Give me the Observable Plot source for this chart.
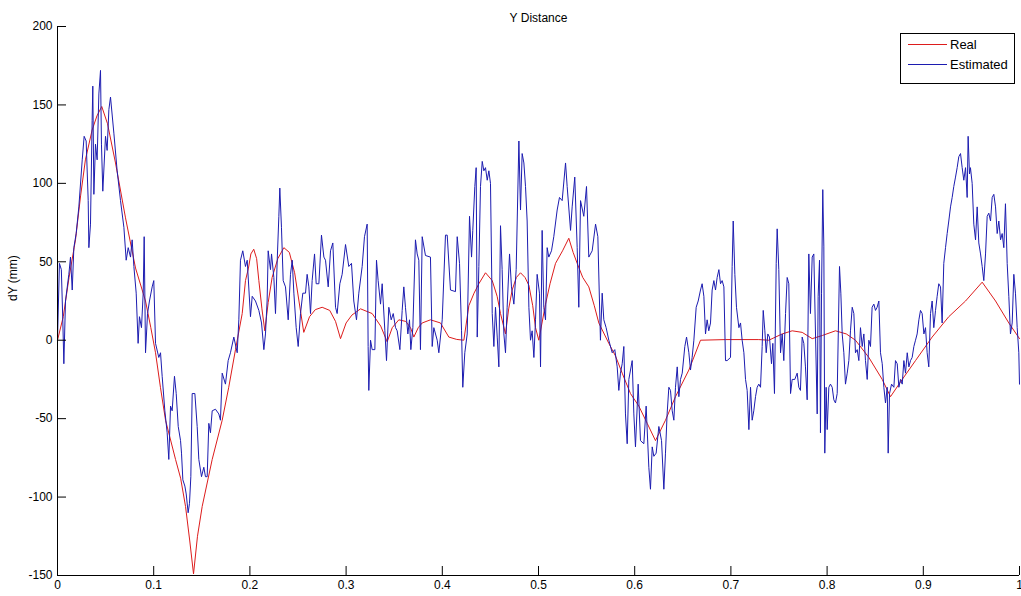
<!DOCTYPE html>
<html><head><meta charset="utf-8">
<script src="https://cdn.jsdelivr.net/npm/d3@7"></script>
<script src="https://cdn.jsdelivr.net/npm/@observablehq/plot@0.6"></script>
<style>
html,body{margin:0;padding:0;background:#fff;}
#wrap{position:relative;width:1021px;height:596px;font-family:"Liberation Sans",Arial,sans-serif;}
#legend{position:absolute;left:900px;top:33px;}
</style></head><body><div id="wrap"></div>
<script>
const titleText = "Y Distance";
const yLabelText = "dY (mm)";
const xTicks = [0,0.1,0.2,0.3,0.4,0.5,0.6,0.7,0.8,0.9,1];
const yTicks = [-150,-100,-50,0,50,100,150,200];
const seriesNames = ["Real","Estimated"];
const seriesColors = ["#dd1c1c","#1c1cb0"];

// Real (smooth) series: [x, dY]
const realPts = [[0,0],[0.006,15],[0.012,40],[0.0187,64],[0.024,92],[0.029,115],[0.036,134],[0.041,143],[0.046,149],[0.052,138],[0.0603,113],[0.0707,78],[0.0811,46],[0.0915,25],[0.097,8],[0.1019,-8],[0.107,-30],[0.1123,-51],[0.1227,-76],[0.128,-88],[0.1331,-106],[0.1375,-128],[0.1414,-149],[0.1455,-125],[0.1504,-106],[0.1608,-76],[0.1712,-51],[0.178,-30],[0.185,-6],[0.192,17],[0.1954,38],[0.1985,46],[0.201,55],[0.204,58],[0.207,52],[0.2093,38],[0.2125,20],[0.2155,6],[0.219,24],[0.2231,40],[0.229,52],[0.2353,59],[0.241,56],[0.2465,43],[0.251,25],[0.256,5],[0.262,15],[0.268,19.5],[0.2751,21],[0.283,19],[0.289,12],[0.2942,1],[0.3,11],[0.306,16],[0.315,20],[0.3271,17],[0.336,9],[0.3427,-1],[0.348,8],[0.3548,13],[0.362,12],[0.367,8],[0.3704,2],[0.375,8],[0.3791,11],[0.3877,13],[0.3981,11],[0.4068,2],[0.415,0.5],[0.4224,0],[0.4276,22],[0.433,30],[0.438,36],[0.4449,43],[0.4519,38],[0.457,28],[0.4605,17],[0.4657,4],[0.469,20],[0.4726,32],[0.477,40],[0.4813,43],[0.486,40],[0.49,35],[0.494,22],[0.4969,8],[0.5003,0],[0.5073,23],[0.512,36],[0.5177,49],[0.525,57],[0.5315,65],[0.536,56],[0.5402,49],[0.546,40],[0.5523,34],[0.558,22],[0.5627,11],[0.5731,-2],[0.58,-10],[0.587,-21],[0.5956,-34],[0.6043,-42],[0.613,-53],[0.6216,-64],[0.632,-51],[0.6424,-36],[0.6563,-19],[0.6684,0],[0.6944,0.4],[0.729,0.4],[0.7394,0],[0.7533,4],[0.7637,6],[0.7741,5],[0.7845,1],[0.795,3],[0.8087,6],[0.82,4],[0.8295,0],[0.8434,-11],[0.8573,-25],[0.8659,-36],[0.8781,-25],[0.8919,-13],[0.9092,2],[0.9265,15],[0.9439,25],[0.9612,37],[0.9751,25],[0.9889,11],[1,1]];

// Estimated (noisy) series: [x, dY]
const estPts = [[0,0],[0.002,49],[0.004,45],[0.0055,13],[0.0066,-15],[0.0083,25],[0.0118,42],[0.0135,53],[0.0153,32],[0.017,59],[0.0194,68],[0.0222,85],[0.0257,115],[0.0277,130],[0.0298,127],[0.0319,89],[0.0326,59],[0.0343,74],[0.036,140],[0.0367,162],[0.0378,93],[0.0395,125],[0.0412,115],[0.043,157],[0.0447,172],[0.0457,125],[0.0471,95],[0.0499,130],[0.0516,121],[0.0534,147],[0.0551,155],[0.0586,132],[0.062,108],[0.0655,89],[0.069,72],[0.0714,51],[0.0735,59],[0.0759,53],[0.0776,64],[0.0794,47],[0.0818,30],[0.0838,-2],[0.0852,15],[0.0873,8],[0.0891,30],[0.0901,66],[0.0915,-8],[0.0936,17],[0.0956,25],[0.0984,34],[0.1001,38],[0.1019,-2],[0.1053,-11],[0.1071,-8],[0.1088,-23],[0.1116,-45],[0.114,-59],[0.1157,-76],[0.1175,-42],[0.1192,-45],[0.1216,-23],[0.1234,-34],[0.1255,-55],[0.1279,-64],[0.1289,-72],[0.1303,-89],[0.1324,-93],[0.1338,-98],[0.1358,-110],[0.1372,-104],[0.1386,-87],[0.14,-34],[0.1428,-34],[0.1452,-55],[0.1469,-76],[0.1497,-87],[0.1521,-81],[0.1538,-87],[0.1556,-87],[0.1573,-53],[0.159,-59],[0.1608,-45],[0.1642,-44],[0.1677,-47],[0.1694,-51],[0.1712,-21],[0.1746,-28],[0.1774,-13],[0.1798,-8],[0.1833,2],[0.1868,-8],[0.1885,13],[0.1902,51],[0.1926,57],[0.1954,47],
[0.1972,51],[0.2006,15],[0.2024,28],[0.2058,25],[0.2093,19],[0.2121,11],[0.2145,-6],[0.2162,4],[0.2179,25],[0.219,57],[0.2214,45],[0.2225,55],[0.2249,40],[0.2266,17],[0.2284,51],[0.2301,79],[0.2311,97],[0.2328,72],[0.2346,38],[0.237,34],[0.2398,13],[0.2422,42],[0.244,51],[0.2457,30],[0.2481,8],[0.2502,-4],[0.2526,17],[0.255,30],[0.2578,30],[0.2595,42],[0.2613,34],[0.263,17],[0.2647,38],[0.2672,55],[0.2689,36],[0.2717,36],[0.2744,67],[0.2769,53],[0.2786,51],[0.2814,34],[0.2838,57],[0.2862,62],[0.289,21],[0.2907,17],[0.2935,36],[0.2959,42],[0.2994,61],[0.3028,47],[0.3056,49],[0.308,25],[0.3108,13],[0.3132,30],[0.3167,47],[0.3191,66],[0.3219,74],[0.3229,-4],[0.3236,-32],[0.3254,0],[0.3271,-6],[0.3299,-6],[0.3316,51],[0.3333,38],[0.3358,23],[0.3375,36],[0.3403,6],[0.342,-13],[0.3444,21],[0.3469,13],[0.349,17],[0.3514,8],[0.3531,6],[0.3559,-6],[0.3583,19],[0.36,34],[0.3617,21],[0.3642,4],[0.3659,13],[0.3673,-6],[0.3694,8],[0.3721,64],[0.3739,55],[0.3756,51],[0.3773,-6],[0.3791,66],[0.3825,54],[0.3877,53],[0.3895,-4],[0.3912,8],[0.3947,0],
[0.3964,-8],[0.3999,13],[0.4033,67],[0.4051,67],[0.4085,32],[0.4137,31],[0.4155,66],[0.4179,49],[0.42,6],[0.4213,-30],[0.4234,-8],[0.4259,4],[0.4283,79],[0.4304,53],[0.4317,70],[0.4338,98],[0.4352,110],[0.4363,2],[0.438,47],[0.4397,98],[0.4415,114],[0.4432,108],[0.4449,110],[0.4467,102],[0.4484,108],[0.4501,100],[0.4519,17],[0.4536,-4],[0.4553,21],[0.4571,2],[0.4588,-17],[0.4605,73],[0.4622,45],[0.464,4],[0.4657,-8],[0.4674,21],[0.4699,55],[0.4719,34],[0.4744,23],[0.4768,45],[0.4796,127],[0.4813,83],[0.483,119],[0.4848,113],[0.4865,98],[0.4882,76],[0.49,21],[0.4917,0],[0.4934,6],[0.4952,-11],[0.4969,13],[0.4986,42],[0.501,30],[0.5021,-17],[0.5038,70],[0.5055,21],[0.5073,13],[0.509,59],[0.5107,53],[0.5135,57],[0.5159,66],[0.5194,83],[0.5218,91],[0.5246,89],[0.5281,113],[0.5298,98],[0.5333,70],[0.535,85],[0.5377,104],[0.5402,59],[0.5419,21],[0.5437,89],[0.5471,79],[0.5499,98],[0.5523,53],[0.5558,57],[0.5593,74],[0.5617,66],[0.5644,0],[0.5662,30],[0.5679,13],[0.5703,8],[0.5731,0],[0.5766,-8],[0.5793,-6],[0.5818,-17],[0.5835,-32],[0.5852,-21],[0.587,-15],[0.5887,-4],[0.5904,-47],[0.5922,-66],[0.5939,-25],
[0.5974,-13],[0.5991,-47],[0.6008,-68],[0.6036,-28],[0.606,-64],[0.6095,-66],[0.6119,-42],[0.6147,-81],[0.6164,-95],[0.6182,-68],[0.6199,-74],[0.6223,-72],[0.6251,-55],[0.6279,-64],[0.6303,-95],[0.632,-72],[0.6337,-47],[0.6355,-30],[0.6372,-32],[0.639,-45],[0.6407,-51],[0.6424,-30],[0.6442,-17],[0.6459,-36],[0.6476,-25],[0.6494,-21],[0.6521,-4],[0.6539,2],[0.6563,-8],[0.658,-19],[0.6597,-11],[0.6615,0],[0.6639,21],[0.666,25],[0.6684,32],[0.6701,36],[0.6719,28],[0.6736,4],[0.6753,13],[0.677,6],[0.6788,11],[0.6805,32],[0.6823,38],[0.684,32],[0.6857,40],[0.6875,45],[0.6892,36],[0.6909,38],[0.6927,34],[0.6944,-13],[0.6961,-13],[0.6996,-11],[0.7013,47],[0.7024,76],[0.7041,42],[0.7058,21],[0.7083,8],[0.71,11],[0.7117,0],[0.7135,-8],[0.7152,-25],[0.7169,-32],[0.7187,-57],[0.7204,-30],[0.7221,-51],[0.7238,-45],[0.7256,-36],[0.7273,-30],[0.729,-28],[0.7308,-30],[0.7325,-4],[0.7336,19],[0.7353,6],[0.7367,-8],[0.7384,4],[0.7401,2],[0.7422,-15],[0.7436,-2],[0.7453,-34],[0.7471,49],[0.7481,71],[0.7498,45],[0.7516,-8],[0.7533,4],[0.755,-13],[0.7568,17],[0.7585,40],[0.7602,36],[0.762,-34],[0.7637,-25],[0.7664,-25],[0.7689,-21],[0.7706,-30],[0.7723,-32],[0.7741,2],[0.7758,-2],[0.7775,-17],[0.7793,-38],[0.781,55],[0.7827,17],[0.7845,53],[0.7862,55],
[0.7897,-47],[0.7907,28],[0.7921,51],[0.7931,-59],[0.7942,30],[0.7955,96],[0.7966,60],[0.7976,-72],[0.799,-30],[0.8001,-57],[0.8018,-30],[0.8035,-28],[0.8053,-30],[0.807,-38],[0.8087,-40],[0.8105,-34],[0.8129,47],[0.8143,30],[0.8157,4],[0.8174,-8],[0.8191,-28],[0.8209,-21],[0.8226,-13],[0.8243,6],[0.8261,21],[0.8278,17],[0.8295,-8],[0.8313,-6],[0.833,-13],[0.8347,8],[0.8365,-4],[0.8382,4],[0.8399,-13],[0.8417,-25],[0.8434,0],[0.8451,-4],[0.8468,21],[0.8486,23],[0.8503,19],[0.852,21],[0.8538,25],[0.8555,-8],[0.8573,-15],[0.859,-30],[0.8607,-40],[0.8625,-30],[0.8635,-72],[0.8649,-34],[0.867,-28],[0.8694,-30],[0.8711,-13],[0.8729,-15],[0.8746,-30],[0.8763,-25],[0.8781,-28],[0.8798,-13],[0.8815,-21],[0.8833,-8],[0.885,-17],[0.8867,-13],[0.8884,-11],[0.8902,-4],[0.8919,0],[0.8936,4],[0.8954,13],[0.8971,19],[0.8988,17],[0.9006,4],[0.9023,8],[0.904,-8],[0.9057,-17],[0.9075,17],[0.9092,25],[0.9109,8],[0.9127,19],[0.9144,28],[0.9161,36],[0.9179,34],[0.9196,11],[0.9213,49],[0.9231,59],[0.9248,68],[0.9265,76],[0.9283,85],[0.93,91],[0.9317,98],[0.9335,104],[0.9352,110],[0.9369,117],[0.9387,119],[0.9404,110],[0.9421,102],[0.9439,110],[0.9456,91],[0.9466,130],[0.948,106],[0.949,110],[0.9508,100],[0.9525,74],[0.9543,64],[0.956,85],[0.9577,62],[0.9595,55],[0.9612,47],[0.9629,38],[0.9647,55],[0.9664,79],[0.9681,81],[0.9699,76],[0.9716,91],[0.9733,93],[0.9751,85],[0.9768,68],[0.9785,76],[0.9803,64],[0.982,68],[0.9837,59],[0.9854,87],[0.9872,49],[0.9889,28],[0.9906,4],[0.9924,11],[0.9941,42],[0.9958,30],[0.9976,8],[0.9993,-8],[1,-28]];

const realData = realPts.map(([x, y]) => ({x, y}));
const estData = estPts.map(([x, y]) => ({x, y}));

const W = 1021, H = 596, mL = 57, mR = 2, mT = 26, mB = 21;
const tickLen = 9;

const chart = Plot.plot({
  width: W, height: H,
  marginLeft: mL, marginRight: mR, marginTop: mT, marginBottom: mB,
  style: {fontFamily: "'Liberation Sans', Arial, sans-serif", fontSize: "12px", color: "#000", background: "#fff", overflow: "visible"},
  x: {domain: [0, 1]},
  y: {domain: [-150, 200]},
  marks: [
    Plot.line(realData, {x: "x", y: "y", stroke: seriesColors[0], strokeWidth: 1}),
    Plot.line(estData, {x: "x", y: "y", stroke: seriesColors[1], strokeWidth: 1}),
    Plot.ruleX([0], {stroke: "#000", strokeWidth: 1}),
    Plot.ruleY([-150], {stroke: "#000", strokeWidth: 1}),
    Plot.ruleX(xTicks, {stroke: "#000", strokeWidth: 1, insetTop: H - mT - mB - tickLen}),
    Plot.ruleY(yTicks, {stroke: "#000", strokeWidth: 1, insetRight: W - mL - mR - tickLen}),
    Plot.axisX({ticks: xTicks, tickSize: 0, tickPadding: 5, tickFormat: d => String(d), label: null, fill: "#000"}),
    Plot.axisY({ticks: yTicks, tickSize: 0, tickPadding: 5, tickFormat: d => String(d), label: null, fill: "#000"}),
    Plot.text([titleText], {frameAnchor: "top", dy: -13, text: d => d, fill: "#000"}),
    Plot.text([yLabelText], {frameAnchor: "left", rotate: -90, dx: -44, text: d => d, fill: "#000"})
  ]
});

const wrap = document.getElementById("wrap");
wrap.appendChild(chart);

// Legend (MATLAB-style box in the upper right)
const lw = 114, lh = 50;
const leg = d3.create("svg").attr("id", "legend").attr("width", lw + 1).attr("height", lh + 1);
leg.append("rect").attr("x", 0.5).attr("y", 0.5).attr("width", lw).attr("height", lh)
  .attr("fill", "#fff").attr("stroke", "#000").attr("stroke-width", 1);
seriesNames.forEach((name, i) => {
  const cy = 11.5 + i * 20;
  leg.append("line").attr("x1", 8).attr("x2", 47).attr("y1", cy).attr("y2", cy)
    .attr("stroke", seriesColors[i]).attr("stroke-width", 1);
  leg.append("text").attr("x", 50).attr("y", cy).attr("dy", "0.35em")
    .attr("font-family", "'Liberation Sans', Arial, sans-serif").attr("font-size", 13)
    .attr("fill", "#000").text(name);
});
wrap.appendChild(leg.node());
</script>
</body></html>
